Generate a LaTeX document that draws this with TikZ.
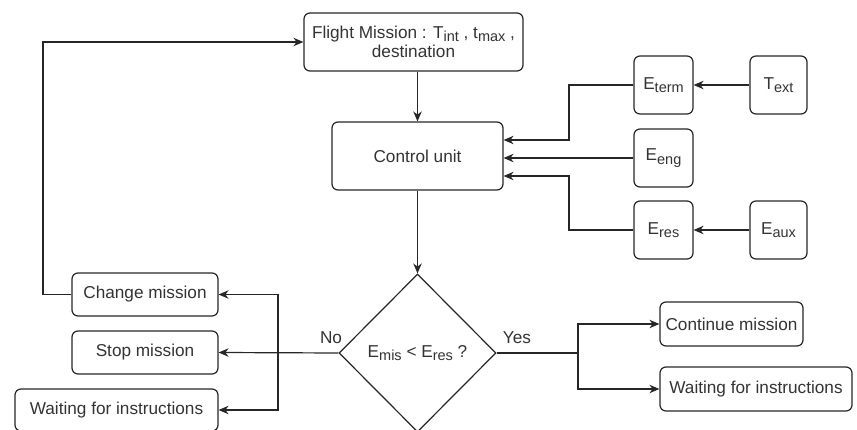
\documentclass[tikz,border=0pt]{standalone}
\usepackage{fontspec}
\setmainfont{Liberation Sans}
\usetikzlibrary{shapes.geometric,arrows.meta}
\newcommand{\mysb}[1]{\raisebox{-0.35ex}{\fontsize{14.5}{14.5}\selectfont #1}}
\begin{document}
\begin{tikzpicture}[x=1pt,y=-1pt,
  font=\fontsize{17.2}{19.5}\selectfont,
  box/.style={draw=black!85, line width=1.2pt, rounded corners=6pt, text=black!80, inner sep=1pt, align=center},
  arr/.style={draw=black!85, line width=1.2pt, -{Stealth[length=10pt,width=8.5pt]}},
  ln/.style={draw=black!85, line width=1.2pt},
  lbl/.style={text=black!80, inner sep=0pt}]
\useasboundingbox (0,0) rectangle (857,430);
\node[box, minimum width=219pt, minimum height=58pt] (flight) at (413.5,42) {Flight Mission : T\mysb{int} , t\mysb{max} ,\\destination};
\node[box, minimum width=171pt, minimum height=68pt] (ctrl) at (417.5,156) {Control unit};
\node[box, minimum width=59pt, minimum height=58pt] (eterm) at (663.5,85) {E\mysb{term}};
\node[box, minimum width=57pt, minimum height=58pt] (text) at (778.5,85) {T\mysb{ext}};
\node[box, minimum width=59pt, minimum height=58pt] (eeng) at (663.5,158) {E\mysb{eng}};
\node[box, minimum width=59pt, minimum height=58pt] (eres) at (663.5,230) {E\mysb{res}};
\node[box, minimum width=57pt, minimum height=58pt] (eaux) at (778.5,230) {E\mysb{aux}};
\node[draw=black!85, line width=1.2pt, diamond, aspect=1, minimum width=157pt, minimum height=158pt, inner sep=0pt, text=black!80] (dec) at (417.5,353) {E\mysb{mis} < E\mysb{res} ?};
\node[box, minimum width=146pt, minimum height=43pt] (change) at (145,294.5) {Change mission};
\node[box, minimum width=146pt, minimum height=43pt] (stop) at (145,352.5) {Stop mission};
\node[box, minimum width=203pt, minimum height=42pt] (waitl) at (116.5,410) {Waiting for instructions};
\node[box, minimum width=143pt, minimum height=44pt] (cont) at (731.5,324) {Continue mission};
\node[box, minimum width=192pt, minimum height=44pt] (waitr) at (756,389) {Waiting for instructions};
\node[lbl] (no) at (331,338) {No};
\node[lbl] (yes) at (517,338) {Yes};
\coordinate (y1) at (0,140);
\coordinate (y3) at (0,176);
\coordinate (bx) at (569,0);
\coordinate (nx) at (278,0);
\coordinate (yx) at (578,0);
\coordinate (lx) at (43,0);
% connectors
\draw[arr] (flight.south -| ctrl.north) -- (ctrl.north);
\draw[arr] (ctrl.south -| dec.north) -- (dec.north);
\draw[arr] (text.west) -- (eterm.east);
\draw[arr] (eaux.west) -- (eres.east);
\draw[arr] (eterm.west) -- (bx |- eterm.west) -- (bx |- y1) -- (ctrl.east |- y1);
\draw[arr] (eeng.west) -- (ctrl.east |- eeng.west);
\draw[arr] (eres.west) -- (bx |- eres.west) -- (bx |- y3) -- (ctrl.east |- y3);
\draw[arr] (dec.west) -- (stop.east);
\draw[arr] (nx |- dec.west) -- (nx |- change.east) -- (change.east);
\draw[arr] (nx |- dec.west) -- (nx |- waitl.east) -- (waitl.east);
\draw[ln] (dec.east) -- (yx |- dec.east);
\draw[arr] (yx |- dec.east) -- (yx |- cont.west) -- (cont.west);
\draw[arr] (yx |- dec.east) -- (yx |- waitr.west) -- (waitr.west);
\draw[arr] (change.west) -- (lx |- change.west) -- (lx |- flight.west) -- (flight.west);
\end{tikzpicture}
\end{document}
